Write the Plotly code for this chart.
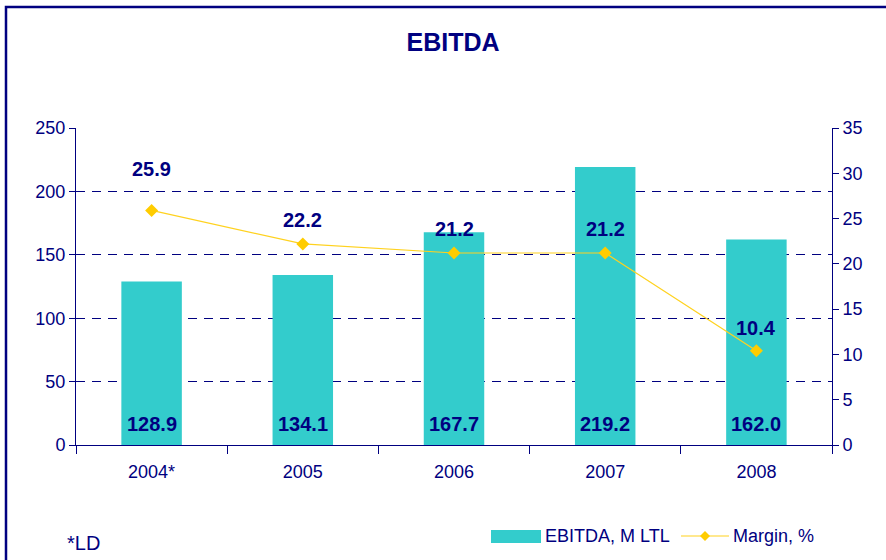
import plotly.graph_objects as go

categories = ["2004*", "2005", "2006", "2007", "2008"]
ebitda = [128.9, 134.1, 167.7, 219.2, 162.0]
margin = [25.9, 22.2, 21.2, 21.2, 10.4]
left_ticks = [0, 50, 100, 150, 200, 250]
right_ticks = [0, 5, 10, 15, 20, 25, 30, 35]

NAVY = "#000080"
BAR = "#33CCCC"
LINE = "#FFD21F"
MARK = "#FFCC00"
FONT = "Liberation Sans, Arial, sans-serif"
label_shift = [41, 24, 24, 24, 23]

# plot area in pixels
L, R, T, B = 76, 832, 128, 445
W, H = R - L, B - T


def px(x):
    return (x - L) / W


def py(y):
    return (B - y) / H


fig = go.Figure()
fig.add_trace(go.Bar(
    x=categories, y=ebitda, name="EBITDA, M LTL",
    marker=dict(color=BAR, line=dict(width=0)),
    width=0.4, showlegend=False, hoverinfo="skip",
))
fig.add_trace(go.Scatter(
    x=categories, y=margin, name="Margin, %", yaxis="y2",
    mode="lines+markers",
    line=dict(color=LINE, width=1.2),
    marker=dict(symbol="diamond", size=10, color=MARK),
    showlegend=False, hoverinfo="skip",
))

bold = dict(family=FONT, size=20, color=NAVY, weight="bold")
annotations = []
for i, v in enumerate(ebitda):
    annotations.append(dict(x=i, y=0, xref="x", yref="y", text=f"{v:.1f}",
                            showarrow=False, yshift=21, yanchor="middle", font=bold))
for i, (m, s) in enumerate(zip(margin, label_shift)):
    annotations.append(dict(x=i, y=m, xref="x", yref="y2", text=f"{m:.1f}",
                            showarrow=False, yshift=s, yanchor="middle", font=bold))
annotations.append(dict(
    x=px(65), y=py(543), xref="paper", yref="paper", text="*LD", showarrow=False,
    xanchor="left", yanchor="middle", font=dict(family=FONT, size=20, color=NAVY),
))
legend_font = dict(family=FONT, size=18, color=NAVY)
annotations.append(dict(x=px(543), y=py(536), xref="paper", yref="paper",
                        text="EBITDA, M LTL", showarrow=False, xanchor="left",
                        yanchor="middle", font=legend_font))
annotations.append(dict(x=px(731), y=py(536), xref="paper", yref="paper",
                        text="Margin, %", showarrow=False, xanchor="left",
                        yanchor="middle", font=legend_font))

shapes = []
# outer frame
shapes.append(dict(type="rect", xref="paper", yref="paper",
                   x0=px(6), x1=px(895), y0=py(570), y1=py(7),
                   line=dict(color=NAVY, width=2.5), layer="below"))
# legend symbols
shapes.append(dict(type="rect", xref="paper", yref="paper",
                   x0=px(491), x1=px(541), y0=py(543), y1=py(530),
                   fillcolor=BAR, line=dict(width=0)))
shapes.append(dict(type="line", xref="paper", yref="paper",
                   x0=px(681), x1=px(729), y0=py(536), y1=py(536),
                   line=dict(color=LINE, width=1.2)))
cx, cy, d = 705, 536, 5
shapes.append(dict(type="path", xref="paper", yref="paper",
                   path=(f"M {px(cx - d)} {py(cy)} L {px(cx)} {py(cy - d)} "
                         f"L {px(cx + d)} {py(cy)} L {px(cx)} {py(cy + d)} Z"),
                   fillcolor=MARK, line=dict(width=0)))

tickfont = dict(family=FONT, size=18, color=NAVY)
fig.update_layout(
    width=886, height=560,
    margin=dict(l=L, r=886 - R, t=T, b=560 - B),
    paper_bgcolor="white", plot_bgcolor="white",
    title=dict(text="<b>EBITDA</b>", x=px(453), xanchor="center", xref="paper",
               y=1 - 42 / 560, yanchor="middle",
               font=dict(family=FONT, size=25, color=NAVY)),
    font=dict(family=FONT, size=18, color=NAVY),
    showlegend=False,
    bargap=0.6,
    hovermode=False,
    xaxis=dict(
        type="category", range=[-0.5, len(categories) - 0.5], fixedrange=True,
        showgrid=False, showline=True, linecolor=NAVY, linewidth=1,
        ticks="outside", tickson="boundaries", ticklen=8, tickcolor=NAVY,
        tickfont=tickfont, ticklabelstandoff=10, layer="above traces",
    ),
    yaxis=dict(
        range=[0, 250], tickvals=left_ticks, showgrid=True, gridcolor=NAVY,
        gridwidth=1, griddash="9px,7px", zeroline=False,
        showline=True, linecolor=NAVY, linewidth=1, ticks="outside", ticklen=6,
        tickcolor=NAVY, tickfont=tickfont, fixedrange=True,
    ),
    yaxis2=dict(
        range=[0, 35], tickvals=right_ticks, overlaying="y", side="right",
        showgrid=False, zeroline=False, showline=True, linecolor=NAVY, linewidth=1,
        ticks="outside", ticklen=6, tickcolor=NAVY, tickfont=tickfont, fixedrange=True,
    ),
    annotations=annotations,
    shapes=shapes,
)

fig.write_html("out.html", config={"displayModeBar": False},
               post_script="document.body.style.margin='0';document.body.style.overflow='hidden';")
